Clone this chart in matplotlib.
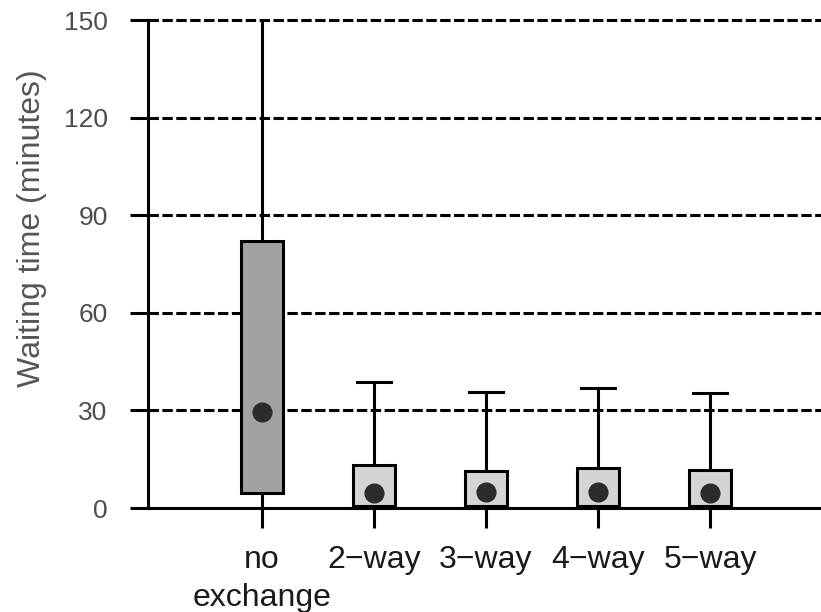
import matplotlib
matplotlib.use("Agg")
from matplotlib import pyplot as plt

plt.rcParams['font.family'] = ['Liberation Sans', 'DejaVu Sans']
plt.rcParams['lines.scale_dashes'] = False

# waiting time summaries per exchange scheme (minutes)
categories = ["no\nexchange", "2\u2212way", "3\u2212way", "4\u2212way", "5\u2212way"]
whisker_low = [0, 0, 0, 0, 0]
box_low = [4.6, 0.5, 0.5, 0.5, 0.5]
medians = [29.5, 4.6, 4.9, 5.0, 4.7]
box_high = [82, 13.2, 11.4, 12.4, 11.7]
whisker_high = [150, 38.7, 35.7, 36.9, 35.2]
y_ticks = [0, 30, 60, 90, 120, 150]

box_colors = ['#a2a2a2', '#d4d4d4', '#d4d4d4', '#d4d4d4', '#d4d4d4']
lw = 2.2

fig = plt.figure(figsize=(8.21, 6.12), dpi=100)
ax = fig.add_axes([148 / 821, 1 - 508 / 612, 1 - 148 / 821, (508 - 20) / 612])

positions = list(range(1, len(categories) + 1))
stats = []
for i in range(len(categories)):
    stats.append(dict(whislo=whisker_low[i], q1=box_low[i], med=medians[i],
                      q3=box_high[i], whishi=whisker_high[i], label=categories[i]))

# dashed guide lines behind the boxes
for y in y_ticks[1:]:
    ax.axhline(y, color='black', lw=lw, dashes=(7.5, 2.5), zorder=1, clip_on=False)

res = ax.bxp(stats, positions=positions, widths=0.38, patch_artist=True,
             showfliers=False, capwidths=0.3,
             boxprops=dict(edgecolor='black', linewidth=lw),
             whiskerprops=dict(color='black', linewidth=lw, solid_capstyle='butt'),
             capprops=dict(color='black', linewidth=lw),
             medianprops=dict(visible=False), zorder=3)
for patch, c in zip(res['boxes'], box_colors):
    patch.set_facecolor(c)
# lower caps sit on the axis line; the first upper whisker runs off the top
for k, cap in enumerate(res['caps']):
    if k % 2 == 0 or k == 1:
        cap.set_visible(False)

ax.plot(positions, medians, 'o', color='#2b2b2b', markersize=13.5, zorder=4)

ax.set_xlim(1 - 114 / 112, 1 + 559 / 112)
ax.set_ylim(0, 150)

for side in ['top', 'right']:
    ax.spines[side].set_visible(False)
ax.spines['left'].set_linewidth(lw)
ax.spines['bottom'].set_linewidth(lw)
ax.spines['bottom'].set_zorder(5)

ax.set_yticks(y_ticks)
ax.set_xticks(positions)
ax.set_xticklabels(categories)
ax.tick_params(axis='y', length=13, width=lw, pad=16, labelsize=19, labelcolor='#4d4d4d')
ax.tick_params(axis='x', length=14.4, width=lw, pad=12, labelsize=23, labelcolor='#1a1a1a')
for lbl in ax.get_xticklabels():
    lbl.set_linespacing(1.35)

fig.text(32 / 821, 1 - 228 / 612, "Waiting time (minutes)", rotation=90,
         ha='center', va='center', fontsize=23, color='#555555')

fig.savefig("out.png", dpi=100)
